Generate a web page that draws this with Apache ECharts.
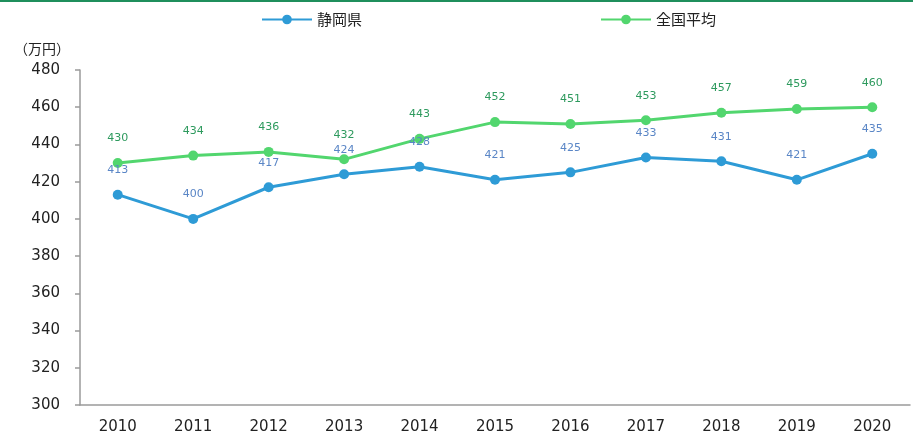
<!DOCTYPE html>
<html>
<head>
<meta charset="utf-8">
<script src="https://cdn.jsdelivr.net/npm/echarts@6/dist/echarts.min.js"></script>
<style>
  html, body { margin: 0; padding: 0; background: #fff; }
  #chart { width: 913px; height: 435px; }
</style>
</head>
<body>
<div id="chart"></div>
<script>
// data
const years = ['2010', '2011', '2012', '2013', '2014', '2015', '2016', '2017', '2018', '2019', '2020']
const shizuoka = [413, 400, 417, 424, 428, 421, 425, 433, 431, 421, 435]
const national = [430, 434, 436, 432, 443, 452, 451, 453, 457, 459, 460]

const chart = echarts.init(document.getElementById('chart'))

const font = '"DejaVu Sans", "Noto Sans CJK JP", sans-serif'
const jpFont = '"Noto Sans CJK JP", sans-serif'

const option = {
  animation: false,
  textStyle: { fontFamily: font },
  graphic: [
    {
      type: 'rect',
      left: 0,
      top: 0,
      shape: { width: 913, height: 2 },
      style: { fill: '#1f8f5c' }
    }
  ],
  legend: {
    top: 7,
    left: 256,
    itemGap: 238,
    itemWidth: 50,
    itemHeight: 12,
    textStyle: { fontSize: 15, color: '#222', fontFamily: jpFont },
    data: ['静岡県', '全国平均']
  },
  grid: { left: 80, right: 3, top: 70, bottom: 30, containLabel: false },
  xAxis: {
    type: 'category',
    data: years,
    axisLine: { lineStyle: { color: '#9a9a9a', width: 1.5 } },
    axisTick: { length: 5, lineStyle: { color: '#9a9a9a', width: 1.5 } },
    axisLabel: { fontSize: 15, color: '#222', margin: 15 }
  },
  yAxis: {
    type: 'value',
    min: 300,
    max: 480,
    interval: 20,
    name: '（万円）',
    nameLocation: 'end',
    nameGap: 14,
    nameTextStyle: { fontSize: 14, color: '#222', align: 'right', padding: [0, 10, 0, 0], fontFamily: jpFont },
    splitLine: { show: false },
    axisLine: { show: true, lineStyle: { color: '#9a9a9a', width: 1.5 } },
    axisTick: { show: true, length: 5, lineStyle: { color: '#9a9a9a', width: 1.5 } },
    axisLabel: { fontSize: 15, color: '#222', margin: 20 }
  },
  series: [
    {
      name: '静岡県',
      type: 'line',
      data: shizuoka,
      symbol: 'circle',
      symbolSize: 10,
      lineStyle: { width: 3, color: '#2e9bd6' },
      itemStyle: { color: '#2e9bd6' },
      label: { show: true, position: 'top', distance: 14, fontSize: 11, color: '#5a86c6' }
    },
    {
      name: '全国平均',
      type: 'line',
      data: national,
      symbol: 'circle',
      symbolSize: 10,
      lineStyle: { width: 3, color: '#52d66e' },
      itemStyle: { color: '#52d66e' },
      label: { show: true, position: 'top', distance: 14, fontSize: 11, color: '#2e9a5e' }
    }
  ]
}

chart.setOption(option)
</script>
</body>
</html>
